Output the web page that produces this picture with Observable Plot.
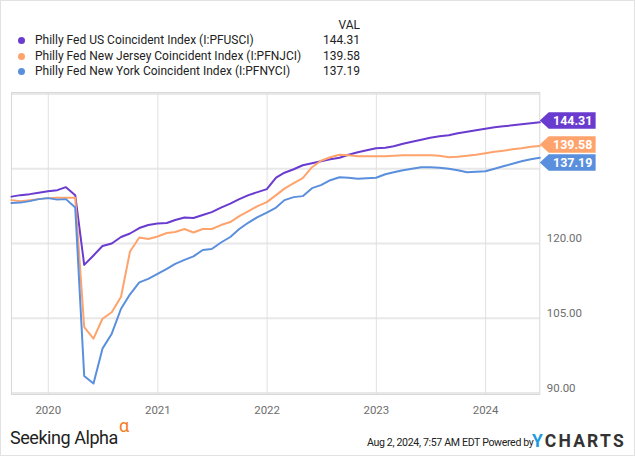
<!DOCTYPE html>
<html><head><meta charset="utf-8">
<script src="https://cdn.jsdelivr.net/npm/d3@7"></script>
<script src="https://cdn.jsdelivr.net/npm/@observablehq/plot@0.6"></script>
<style>
body{margin:0;background:#fff;font-family:Roboto,"Noto Sans",sans-serif;}
#wrap{position:relative;width:635px;height:456px;box-sizing:border-box;border:1px solid #e2e2e2;overflow:hidden;background:#fff;}
#legend{position:absolute;left:0;top:0;width:635px;height:80px;}
.lrow{position:absolute;left:0;height:16px;font-size:12px;color:#222;white-space:nowrap;}
.ldot{position:absolute;left:17px;top:5px;width:7px;height:7px;border-radius:50%;}
.lname{position:absolute;left:34px;top:0;line-height:16px;}
.lval{position:absolute;left:300px;width:59px;text-align:right;top:0;line-height:16px;}
#chart{position:absolute;left:0;top:80px;}
#sa{position:absolute;left:9px;top:426px;font-size:18px;color:#222;letter-spacing:-0.45px;white-space:nowrap;}
#sa sup{color:#f47c20;font-size:18px;position:relative;top:-10px;margin-left:1px;vertical-align:top;line-height:1;}
#stamp{position:absolute;left:366px;top:435px;font-size:10.6px;color:#222;letter-spacing:-0.35px;white-space:nowrap;}
#yc{position:absolute;left:531px;top:430px;font-size:17.5px;font-weight:bold;color:#333;letter-spacing:2.2px;white-space:nowrap;}
#yc span{color:#1e9be0;}
</style></head><body>
<div id="wrap">
  <div id="legend"></div>
  <div id="chart"></div>
  <div id="sa">Seeking Alpha<sup>α</sup></div>
  <div id="stamp">Aug 2, 2024, 7:57 AM EDT Powered by</div>
  <div id="yc"><span>Y</span>CHARTS</div>
</div>
<script>
// ---- data ----
const seriesNames = [
  "Philly Fed US Coincident Index (I:PFUSCI)",
  "Philly Fed New Jersey Coincident Index (I:PFNJCI)",
  "Philly Fed New York Coincident Index (I:PFNYCI)"
];
const seriesColors = ["#6a3bcf", "#ffa36c", "#5a8fdd"];
const months = [
  "2019-08","2019-09","2019-10","2019-11","2019-12",
  "2020-01","2020-02","2020-03","2020-04","2020-05","2020-06","2020-07","2020-08","2020-09","2020-10","2020-11","2020-12",
  "2021-01","2021-02","2021-03","2021-04","2021-05","2021-06","2021-07","2021-08","2021-09","2021-10","2021-11","2021-12",
  "2022-01","2022-02","2022-03","2022-04","2022-05","2022-06","2022-07","2022-08","2022-09","2022-10","2022-11","2022-12",
  "2023-01","2023-02","2023-03","2023-04","2023-05","2023-06","2023-07","2023-08","2023-09","2023-10","2023-11","2023-12",
  "2024-01","2024-02","2024-03","2024-04","2024-05","2024-06"
];
const usValues = [
  129.4,129.7,129.9,130.2,130.5,
  130.7,131.3,129.7,115.7,117.6,119.5,120.0,121.3,122.0,123.1,123.7,124.0,
  124.1,124.7,125.2,125.1,125.7,126.3,127.2,128.0,128.9,129.7,130.3,130.9,
  133.2,134.2,134.9,135.7,136.1,136.5,136.9,137.2,137.8,138.3,138.7,139.1,
  139.2,139.5,140.0,140.4,140.8,141.2,141.5,141.7,142.1,142.4,142.7,143.0,
  143.3,143.5,143.7,143.9,144.1,144.31
];
const njValues = [
  128.7,128.5,128.7,128.9,129.1,
  129.2,129.2,129.2,103.2,100.9,104.9,106.2,109.3,118.4,121.2,120.9,121.4,
  122.1,122.3,122.9,122.2,122.9,122.9,123.7,124.3,125.5,126.5,127.5,128.3,
  129.7,131.0,132.1,133.1,135.3,136.6,137.3,137.8,137.7,137.5,137.5,137.5,
  137.5,137.6,137.7,137.7,137.7,137.7,137.6,137.3,137.4,137.6,137.8,138.1,
  138.4,138.6,138.9,139.1,139.4,139.58
];
const nyValues = [
  128.1,128.2,128.5,128.9,129.1,
  128.8,128.9,127.2,93.4,91.9,98.9,101.9,106.9,109.8,112.2,112.9,113.9,
  114.9,115.9,116.7,117.4,118.7,118.9,120.2,121.3,122.9,124.2,125.3,126.2,
  127.2,128.7,129.3,129.5,131.1,131.7,132.7,133.3,133.2,133.0,133.1,133.2,
  133.9,134.3,134.7,135.0,135.3,135.3,135.2,135.0,134.7,134.3,134.4,134.5,
  135.0,135.5,136.0,136.5,136.9,137.19
];
const yearTicks = [2020, 2021, 2022, 2023, 2024];
const yTickLabels = [90, 105, 120];
const yGrid = [90, 105, 120, 135, 150];

// ---- build table ----
const monthEnd = s => { const [y, m] = s.split("-").map(Number); return new Date(Date.UTC(y, m, 0)); };
const dates = months.map(monthEnd);
const allValues = [usValues, njValues, nyValues];
const rows = [];
allValues.forEach((vals, i) => vals.forEach((v, j) => rows.push({date: dates[j], value: v, series: seriesNames[i]})));
const lastRows = allValues.map((vals, i) => ({date: dates[dates.length - 1], value: vals[vals.length - 1], series: seriesNames[i]}));
const flagDy = [-1.8, -1.3, 4.8];

// ---- legend ----
const legend = d3.select("#legend");
legend.append("div").attr("class", "lrow").style("top", "16px")
  .append("div").attr("class", "lval").text("VAL");
seriesNames.forEach((name, i) => {
  const r = legend.append("div").attr("class", "lrow").style("top", (31 + i * 15.5) + "px");
  r.append("div").attr("class", "ldot").style("background", seriesColors[i]);
  r.append("div").attr("class", "lname").text(name);
  r.append("div").attr("class", "lval").text(lastRows[i].value.toFixed(2));
});

// ---- flag symbol ----
const flag = {draw(ctx) {
  ctx.moveTo(0, 0); ctx.lineTo(9, -8.3); ctx.lineTo(56, -8.3); ctx.lineTo(56, 8.3); ctx.lineTo(9, 8.3); ctx.closePath();
}};

const yearDates = yearTicks.map(y => new Date(Date.UTC(y, 0, 1)));

const plot = Plot.plot({
  width: 635, height: 340,
  marginLeft: 10, marginRight: 95, marginTop: 11, marginBottom: 26,
  style: {fontFamily: "Roboto, sans-serif", fontSize: "11.5px", color: "#666", background: "transparent", overflow: "visible"},
  x: {type: "utc", domain: [dates[0], dates[dates.length - 1]]},
  y: {domain: [89.7, 150.3]},
  color: {domain: seriesNames, range: seriesColors},
  marks: [
    Plot.gridY(yGrid, {stroke: "#e8e8e8", strokeOpacity: 1, strokeWidth: 2}),
    Plot.gridX(yearDates, {stroke: "#e0e0e0", strokeOpacity: 1, strokeWidth: 1}),
    Plot.frame({stroke: "#d8d8d8", strokeWidth: 1}),
    Plot.axisY(yTickLabels, {anchor: "right", tickSize: 0, tickPadding: 7, dy: -5, textAnchor: "start",
      tickFormat: d => d.toFixed(2), label: null, fill: "#6e6e6e"}),
    Plot.axisX(yearDates, {anchor: "bottom", tickSize: 0, tickPadding: 11, tickFormat: d3.utcFormat("%Y"), label: null, fill: "#6e6e6e"}),
    Plot.line(rows, {x: "date", y: "value", z: "series", stroke: "series", strokeWidth: 2}),
    ...lastRows.map((d, i) => Plot.dot([d], {x: "date", y: "value", fill: "series", stroke: null, symbol: flag, r: 5, dy: flagDy[i]})),
    ...lastRows.map((d, i) => Plot.text([d], {x: "date", y: "value", text: d => d.value.toFixed(2), dx: 33, dy: flagDy[i],
      fill: "white", fontWeight: "bold", fontSize: 12.5, textAnchor: "middle"}))
  ]
});
document.getElementById("chart").appendChild(plot);
</script>
</body></html>
